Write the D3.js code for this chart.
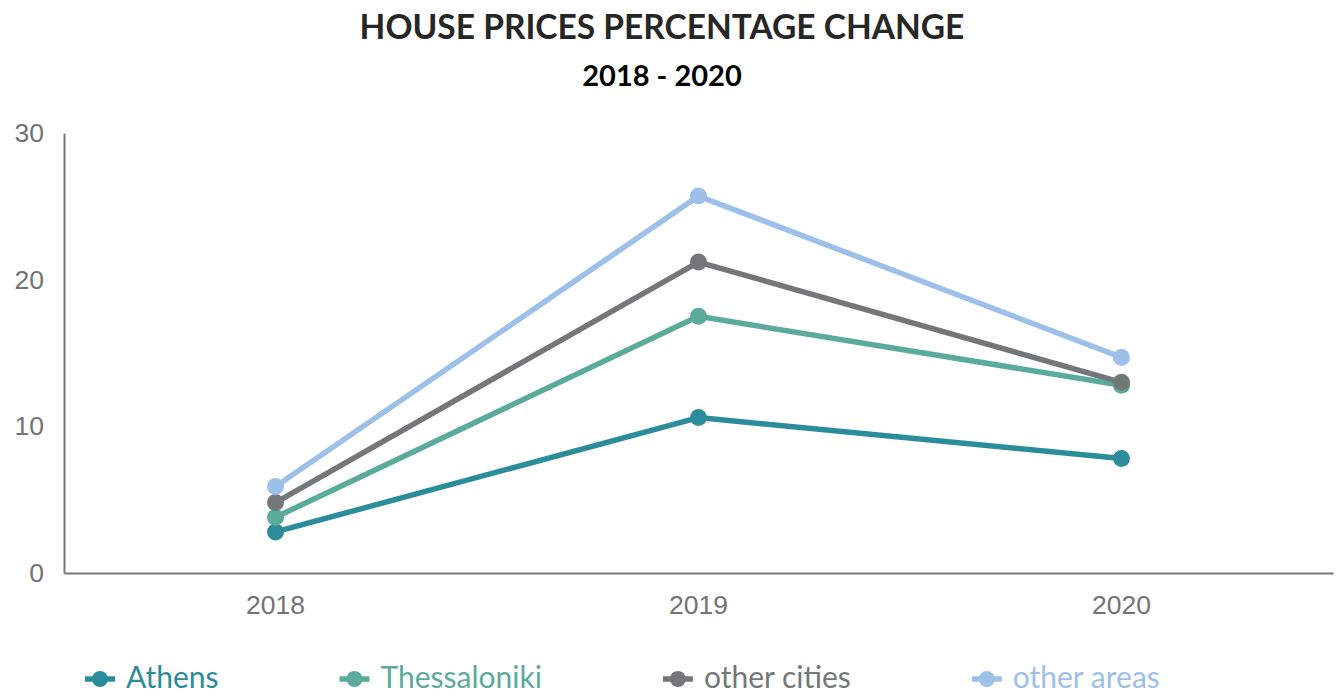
<!DOCTYPE html>
<html>
<head>
<meta charset="utf-8">
<script src="https://cdn.jsdelivr.net/npm/d3@7"></script>
<style>
  html, body { margin: 0; padding: 0; background: #fff; }
  svg { display: block; }
</style>
</head>
<body>
<svg id="chart" width="1340" height="694"></svg>
<script>
const years = ["2018", "2019", "2020"];
const seriesNames = ["Athens", "Thessaloniki", "other cities", "other areas"];
const athens = [2.8, 10.6, 7.8];
const thessaloniki = [3.8, 17.5, 12.8];
const otherCities = [4.8, 21.2, 13.0];
const otherAreas = [5.9, 25.7, 14.7];
const yTicks = [0, 10, 20, 30];
const colors = ["#2b8c9b", "#5aab9b", "#747778", "#9cc0e9"];

const seriesValues = [athens, thessaloniki, otherCities, otherAreas];
const series = seriesNames.map((name, i) => ({
  name, color: colors[i],
  values: years.map((y, j) => ({ year: y, value: seriesValues[i][j] }))
}));

const svg = d3.select("#chart");
const mLeft = 64, mRight = 1333, mTop = 133, mBottom = 573;

const x = d3.scaleBand().domain(years).range([mLeft, mRight]).padding(0);
const y = d3.scaleLinear().domain([0, 30]).range([mBottom, mTop]);

// Title
svg.append("text")
  .attr("x", 662).attr("y", 39)
  .attr("text-anchor", "middle")
  .style("font-family", "Lato")
  .style("font-weight", "bold")
  .style("font-size", "33.5px")
  .style("fill", "#262626")
  .text("HOUSE PRICES PERCENTAGE CHANGE");
svg.append("text")
  .attr("x", 662).attr("y", 86)
  .attr("text-anchor", "middle")
  .style("font-family", "Lato")
  .style("font-weight", "bold")
  .style("font-size", "29px")
  .style("fill", "#000")
  .text("2018 - 2020");

// Axes
const axisColor = "#767676";
const yAxis = svg.append("g")
  .attr("transform", `translate(${mLeft},0)`)
  .call(d3.axisLeft(y).tickValues(yTicks).tickSize(0).tickPadding(20));
const xAxis = svg.append("g")
  .attr("transform", `translate(0,${mBottom})`)
  .call(d3.axisBottom(x).tickSize(0).tickPadding(22));
[yAxis, xAxis].forEach(g => {
  g.select(".domain").attr("stroke", axisColor).attr("stroke-width", 2);
  g.selectAll("text")
    .style("font-family", "'Liberation Sans', Arial, sans-serif")
    .style("font-size", "26.5px")
    .style("fill", "#737373");
});

// Lines
const line = d3.line().x(d => x(d.year) + x.bandwidth() / 2).y(d => y(d.value));
const sg = svg.selectAll(".series").data(series).join("g").attr("class", "series");
sg.append("path")
  .attr("d", d => line(d.values))
  .attr("fill", "none")
  .attr("stroke", d => d.color)
  .attr("stroke-width", 5.5)
  .attr("stroke-linejoin", "round");
sg.selectAll("circle").data(d => d.values.map(v => ({ ...v, color: d.color })))
  .join("circle")
  .attr("cx", d => x(d.year) + x.bandwidth() / 2)
  .attr("cy", d => y(d.value))
  .attr("r", 8.5)
  .attr("fill", d => d.color);

// Legend
const legendY = 679;
let lx = 85;
series.forEach(s => {
  const g = svg.append("g");
  g.append("line").attr("x1", lx).attr("x2", lx + 30).attr("y1", legendY).attr("y2", legendY)
    .attr("stroke", s.color).attr("stroke-width", 5.5);
  g.append("circle").attr("cx", lx + 15).attr("cy", legendY).attr("r", 8).attr("fill", s.color);
  const t = g.append("text")
    .attr("x", lx + 41).attr("y", legendY + 9)
    .style("font-family", "Lato")
    .style("font-size", "30px")
    .style("fill", s.color)
    .text(s.name);
  const w = t.node().getComputedTextLength();
  lx = lx + 41 + w + 121;
});
</script>
</body>
</html>
